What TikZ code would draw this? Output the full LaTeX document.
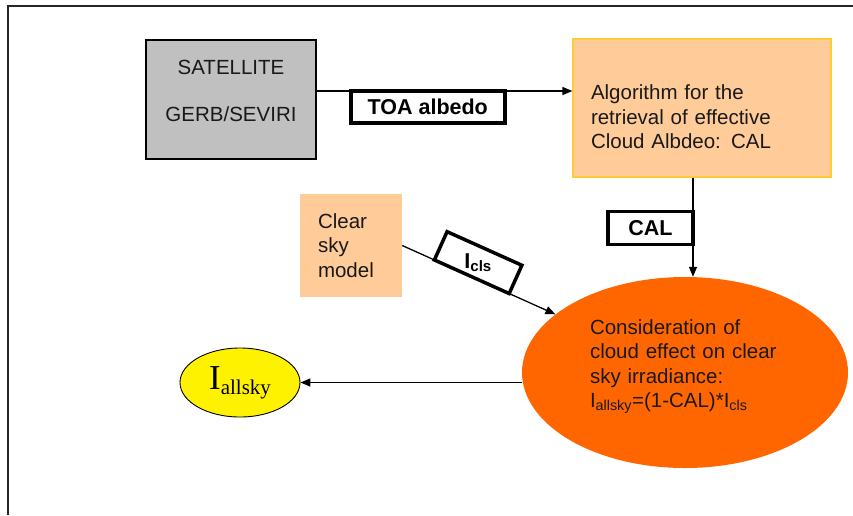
\documentclass[tikz,border=0pt]{standalone}
\usepackage{fontspec}
\setmainfont{Liberation Sans}
\newfontfamily\timesfont{Liberation Serif}
\usetikzlibrary{arrows.meta, shapes.geometric}

\definecolor{peach}{HTML}{FFCC99}
\definecolor{gold}{HTML}{FFCC33}
\definecolor{satgray}{HTML}{C0C0C0}
\definecolor{hotorange}{HTML}{FF6600}

% extra depth below the last line, lifts a text block a little
\newcommand{\liftby}[1]{\rule[-#1]{0pt}{1pt}}

\tikzset{
    txt/.style={font=\fontsize{20.5}{24.5}\selectfont, text=black!90},
    satbox/.style={txt, draw=black, line width=1.5pt, fill=satgray,
        minimum width=170, minimum height=119, align=center},
    algbox/.style={txt, draw=gold, line width=1.2pt, fill=peach,
        minimum width=258, minimum height=138, text width=222, align=left},
    skybox/.style={txt, fill=peach, minimum width=102, minimum height=103,
        text width=66, align=left},
    consell/.style={txt, ellipse, fill=hotorange, inner sep=0pt,
        minimum width=326, minimum height=191, text width=190, align=left},
    allell/.style={ellipse, draw=black, line width=0.9pt, fill=yellow,
        inner sep=0pt, minimum width=120, minimum height=69},
    lbl/.style={draw=black, fill=white, line width=3.5pt, inner sep=0pt,
        outer sep=0pt, font=\fontsize{21.5}{24}\selectfont\bfseries},
    arr/.style={line width=1.3pt, -{Triangle[length=10pt, width=8pt]}},
}

\begin{document}
\begin{tikzpicture}[x=1pt, y=-1pt]
    \useasboundingbox (0,0) rectangle (853,515);
    \draw[line width=2.2pt, black!85] (8,515) -- (8,6) -- (853,6);

    \node[satbox] at (231,99.5) (sat) {SATELLITE\\[22.5pt]GERB/SEVIRI\liftby{17pt}};
    \node[algbox] at (702,108) (alg)
        {\rule{0pt}{33pt}Algorithm for the\\retrieval of effective\\Cloud Albdeo: CAL};
    \node[skybox] at (351,245.5) (sky) {Clear\\sky\\model};
    \node[consell] at (685,372.5) (cons)
        {Consideration of\\cloud effect on clear\\sky irradiance:\\I\textsubscript{allsky}=(1-CAL)*I\textsubscript{cls}\liftby{18pt}};
    \node[allell] at (240,382.5) (iall)
        {\timesfont\fontsize{35}{35}\selectfont I\raisebox{-5pt}{\fontsize{21}{21}\selectfont allsky}};

    \draw[arr] ([yshift=8.5pt]sat.east) -- ([yshift=8.5pt]sat.east -| alg.west)
        node[lbl, pos=0.133, anchor=north west, minimum width=154, minimum height=32] (toa) {TOA albedo};
    \draw[arr] ([xshift=-9pt]alg.south) -- ([xshift=8pt]cons.north)
        node[lbl, pos=0.34, anchor=north east, minimum width=85, minimum height=33] (cal) {CAL};
    \draw[arr] (sky.east) -- (cons)
        node[lbl, pos=0.21, sloped, anchor=south west, minimum width=82, minimum height=31] (icls)
        {\rotatebox{24}{I\textsubscript{cls}}};
    \draw[arr] (cons.west |- iall) -- (iall);
\end{tikzpicture}
\end{document}
